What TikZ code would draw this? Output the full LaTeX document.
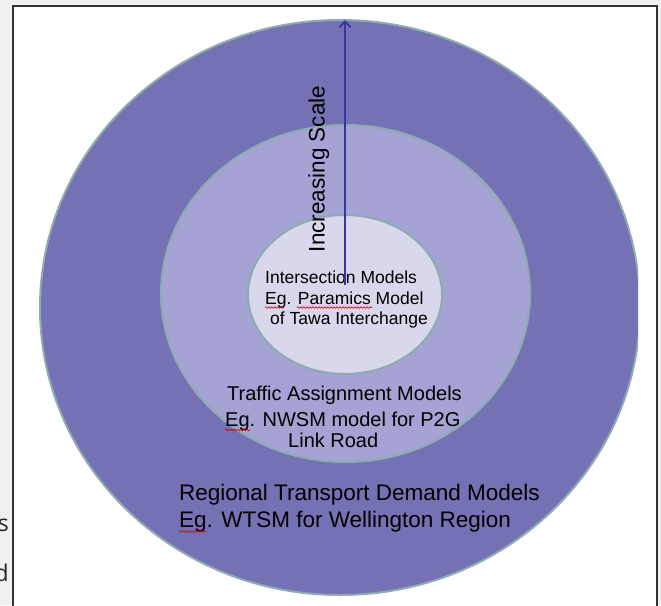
\documentclass[tikz,border=0pt]{standalone}
\usepackage{fontspec}
\setmainfont{Liberation Sans}
\newfontfamily\uifont{Open Sans}
\usetikzlibrary{shapes.geometric,arrows.meta,decorations.pathmorphing}
\definecolor{pagegray}{HTML}{F0F0F0}
\definecolor{framegray}{HTML}{333333}
\definecolor{outerfill}{HTML}{7472B4}
\definecolor{midfill}{HTML}{A5A3D4}
\definecolor{innerfill}{HTML}{D8D7EC}
\definecolor{ringedge}{HTML}{8FAAB0}
\definecolor{arrowblue}{HTML}{3535A5}
\begin{document}
\begin{tikzpicture}[x=1pt,y=-1pt,
  ring/.style={ellipse, draw=ringedge, line width=2pt, inner sep=0pt, outer sep=0pt},
  lbl/.style={anchor=base west, inner sep=0pt, text=black},
  small/.style={font=\fontsize{17.5}{21}\selectfont},
  medium/.style={font=\fontsize{20}{24}\selectfont},
  large/.style={font=\fontsize{22.5}{27}\selectfont},
  squig/.style={draw=red!80!black, line width=0.6pt, decorate,
    decoration={snake, amplitude=0.8pt, segment length=3pt}}]
\useasboundingbox (0,0) rectangle (661,605);
\fill[pagegray] (0,0) rectangle (661,605);
\draw[fill=white, draw=framegray, line width=1.5pt] (13,6) rectangle (657,625);
\begin{scope}
  \clip (14,7) rectangle (638,605);
  \node[ring, fill=outerfill, minimum width=600, minimum height=575] (outer) at (340,307.5) {};
\end{scope}
\node[ring, fill=midfill, minimum width=369, minimum height=337] (middle) at (345.5,293.5) {};
\node[ring, fill=innerfill, minimum width=194, minimum height=159] (inner) at (345,294.5) {};

% labels, inner
\node[lbl, small] (in1) at (265,283) {Intersection Models};
\node[lbl, small] (in2) at (265,304) {Eg. Paramics Model};
\node[lbl, small] (in3) at (270,324.5) {of Tawa Interchange};
% labels, middle
\node[lbl, medium] (mid1) at (227,400.7) {Traffic Assignment Models};
\node[lbl, medium] (mid2) at (225,426.5) {Eg. NWSM model for P2G};
\node[lbl, medium] (mid3) at (288,447.5) {Link Road};
% labels, outer
\node[lbl, large] (out1) at (179,500.5) {Regional Transport Demand Models};
\node[lbl, large] (out2) at (179,527.5) {Eg. WTSM for Wellington Region};

% scale arrow
\coordinate (foot) at (345,285);
\coordinate (tip) at (345,20);
\draw[arrowblue, line width=1.8pt, -{Straight Barb[length=6pt,width=11pt]}] (foot) -- (tip);
\node[large, anchor=base, rotate=90, inner sep=0pt] (scale) at (324.5,169) {Increasing Scale};

% spell-check underlines
\coordinate (sq1a) at (265,307.5); \coordinate (sq1b) at (284,307.5);
\coordinate (sq2a) at (297,307.5); \coordinate (sq2b) at (372,307.5);
\coordinate (sq3a) at (225,430); \coordinate (sq3b) at (250,430);
\coordinate (sq4a) at (179,531.5); \coordinate (sq4b) at (206,531.5);
\draw[squig] (sq1a) -- (sq1b);
\draw[squig] (sq2a) -- (sq2b);
\draw[squig] (sq3a) -- (sq3b);
\draw[squig] (sq4a) -- (sq4b);

% cut-off text left of the frame
\node[anchor=base east, inner sep=0pt, font=\uifont\fontsize{23}{27}\selectfont, text=black!85] (cuts) at (9,531.5) {s};
\node[anchor=base east, inner sep=0pt, font=\uifont\fontsize{23}{27}\selectfont, text=black!85] (cutd) at (9,581.5) {d};
\end{tikzpicture}
\end{document}
